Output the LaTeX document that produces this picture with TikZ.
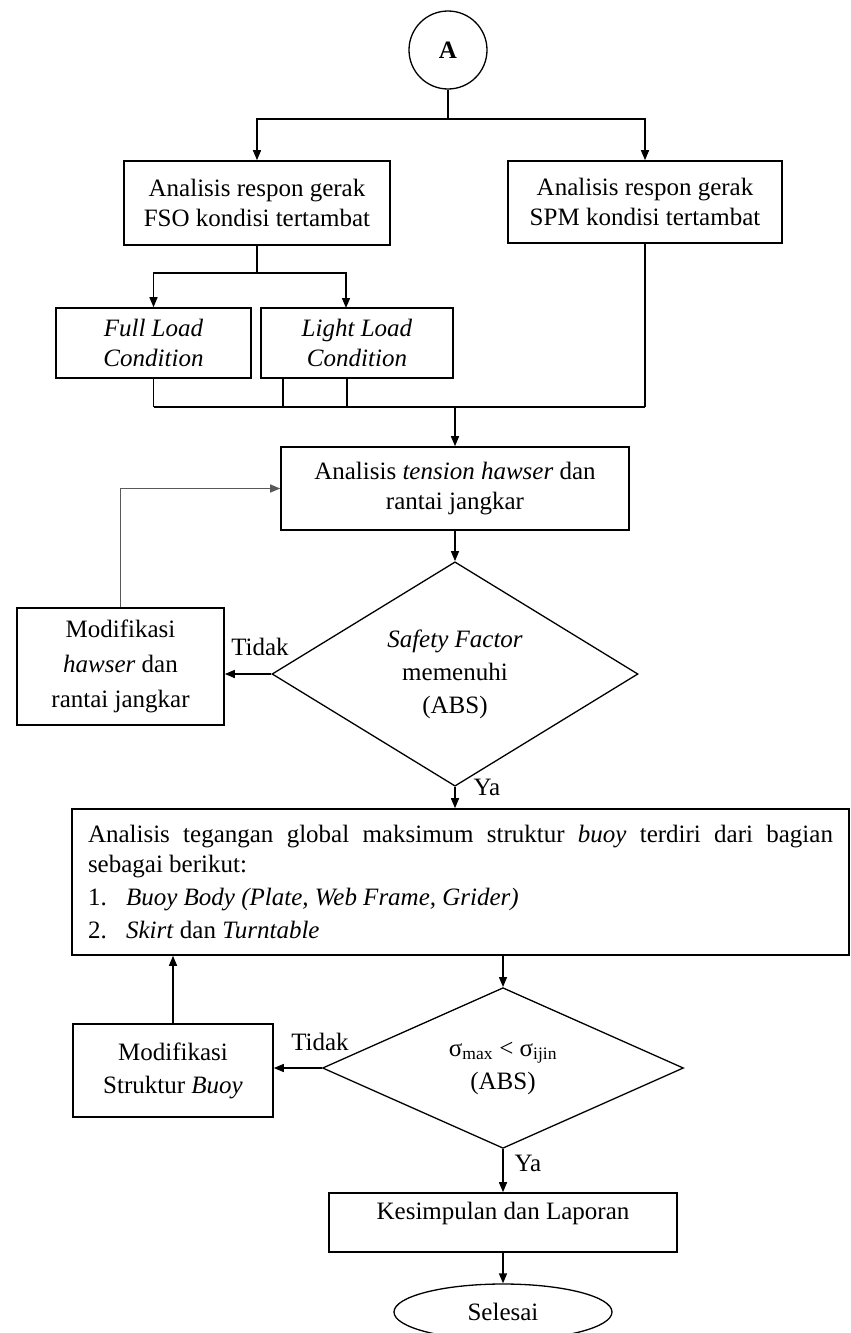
\documentclass[tikz,border=0pt]{standalone}
\usepackage{fontspec}
\setmainfont{Liberation Serif}
\usetikzlibrary{shapes.geometric,arrows.meta}

\begin{document}
\begin{tikzpicture}[x=1pt,y=-1pt,
						font=\fontsize{25}{30}\selectfont,
						>={Triangle[length=10pt,width=8pt]},
						boxnode/.style={rectangle, draw=black, line width=1.6pt, inner sep=0pt},
						decnode/.style={diamond, draw=black, line width=1.3pt, inner sep=0pt, align=center},
						every path/.style={line width=1.4pt},
						]
						\useasboundingbox (0,0) rectangle (851,1333);
						%Nodes
						\node[circle, draw=black, line width=1.3pt, minimum size=78pt, inner sep=0pt, font=\fontsize{25}{30}\selectfont\bfseries] (start) at (448,50) {A};
						\node[boxnode, align=center, minimum width=266pt, minimum height=84pt] (fso) at (257,203) {Analisis respon gerak\\FSO kondisi tertambat};
						\node[boxnode, align=center, minimum width=274pt, minimum height=82pt] (spm) at (645,202) {Analisis respon gerak\\SPM kondisi tertambat};
						\node[boxnode, align=center, minimum width=195pt, minimum height=70pt] (full) at (153.5,343) {\textit{Full Load}\\\textit{Condition}};
						\node[boxnode, align=center, minimum width=192pt, minimum height=70pt] (light) at (357,343) {\textit{Light Load}\\\textit{Condition}};
						\node[boxnode, align=center, minimum width=348pt, minimum height=83pt] (tension) at (455,488.5) {Analisis \textit{tension hawser} dan\\rantai jangkar};
						\node[decnode, minimum width=366pt, minimum height=202pt] (sf) at (455,674) {\textit{Safety Factor}\\[3pt]memenuhi\\[3pt](ABS)};
						\node[boxnode, align=center, minimum width=207pt, minimum height=117pt] (modhawser) at (120.5,666.5) {Modifikasi\\[5pt]\textit{hawser} dan\\[5pt]rantai jangkar};
						\node (tidak1) at (260,647) {Tidak};
						\node (ya1) at (487,787) {Ya};
						\node[boxnode, align=justify, text width=745pt, inner xsep=16pt, minimum height=146pt] (stress) at (460.5,882) {Analisis tegangan global maksimum struktur \textit{buoy} terdiri dari bagian\linebreak sebagai berikut:\\[3pt]
							\makebox[38pt][l]{1.}\textit{Buoy Body (Plate, Web Frame, Grider)}\\[3pt]
							\makebox[38pt][l]{2.}\textit{Skirt} dan \textit{Turntable}};
						\node[decnode, minimum width=361pt, minimum height=159pt] (stresscheck) at (503,1068) {σ\textsubscript{max} < σ\textsubscript{ijin}\\[3pt](ABS)};
						\node[boxnode, align=center, minimum width=200pt, minimum height=93pt] (modbuoy) at (173,1070.5) {Modifikasi\\[3pt]Struktur \textit{Buoy}};
						\node (tidak2) at (320,1042) {Tidak};
						\node (ya2) at (528,1163) {Ya};
						\node[boxnode, minimum width=348pt, text height=22pt, text depth=28pt, inner ysep=4.5pt] (report) at (503,1222.5) {Kesimpulan dan Laporan};
						\node[ellipse, draw=black, line width=1.3pt, minimum width=218pt, minimum height=56pt, inner sep=0pt] (finish) at (503,1312) {Selesai};

						\coordinate (split) at (448,119);
						\coordinate (fsosplit) at (257,273);
						\coordinate (lightin) at (346,308);
						\coordinate (merge) at (455,407);

						%Lines
						\draw (start) -- (split);
						\draw[->] (split) -| (fso);
						\draw[->] (split) -| (spm);

						\draw (fso) -- (fsosplit);
						\draw[->] (fsosplit) -| (full);
						\draw[->] (fsosplit) -| (lightin);

						\draw (full.south) -- (full.south |- merge);
						\draw ([xshift=-74pt]light.south) -- ([xshift=-74pt]light.south |- merge);
						\draw ([xshift=-10pt]light.south) -- ([xshift=-10pt]light.south |- merge);
						\draw (spm.south) -- (spm.south |- merge);
						\draw (full.south |- merge) -- (spm.south |- merge);
						\draw[->] (merge) -- (tension);

						\draw[->] (tension) -- (sf);
						\draw[->] (sf.west) -- (sf.west -| modhawser.east);
						\draw[->, gray!70!black] (modhawser.north) |- (tension.west);
						\draw[->] (sf.south) -- (stress.north -| sf.south);

						\draw[->] (stress.south -| stresscheck.north) -- (stresscheck.north);
						\draw[->] (stresscheck.west) -- (stresscheck.west -| modbuoy.east);
						\draw[->] (modbuoy.north) -- (modbuoy.north |- stress.south);
						\draw[->] (stresscheck.south) -- (report.north);
						\draw[->] (report) -- (finish);
					\end{tikzpicture}
\end{document}
